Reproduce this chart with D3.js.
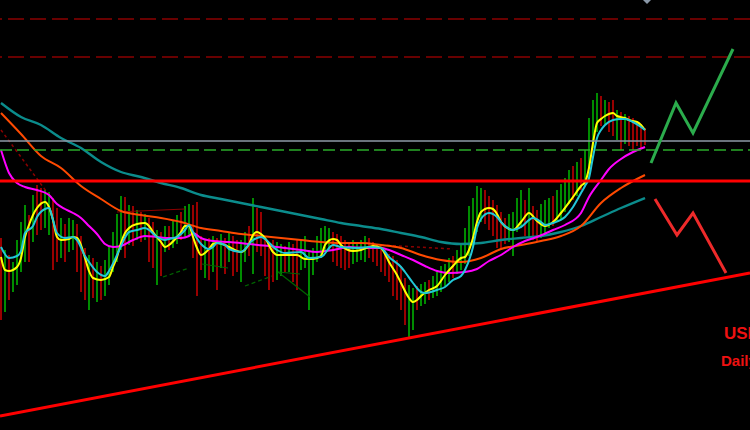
<!DOCTYPE html>
<html><head><meta charset="utf-8">
<script src="https://cdn.jsdelivr.net/npm/d3@7"></script>
<style>html,body{margin:0;padding:0;background:#000;overflow:hidden}svg{display:block}</style>
</head><body>
<script>
// ---- DATA ----
const barHigh = [
262,250,245,238,260,278,295,285,305,315,
312,310,308,302,292,282,276,282,280,276,
264,252,245,242,238,234,240,254,268,286,
304,303,295,294,290,288,286,282,278,270,
268,274,274,280,285,288,294,296,295,298,
264,260,262,264,262,266,262,268,264,260,
260,268,274,302,292,288,262,258,260,258,
256,254,258,256,260,260,264,250,252,264,
272,274,272,268,266,264,260,258,260,258,
260,264,262,258,256,254,250,246,244,240,
234,222,215,212,214,216,218,220,224,228,
234,236,242,244,250,256,272,294,302,314,
312,310,304,300,295,288,282,286,288,302,
310,300,312,294,290,296,300,302,304,310,
316,322,330,334,338,342,350,382,400,407,
404,400,398,400,390,388,386,384,382,378,376,372];
const barLow = [
180,188,200,208,215,228,238,238,258,265,
270,272,265,230,238,242,238,248,250,228,
208,200,190,202,198,200,204,215,228,238,
250,242,255,254,260,258,260,238,232,215,
224,248,250,252,256,260,262,264,242,204,
230,222,220,228,210,232,226,238,224,228,
218,238,244,226,248,244,224,210,218,220,
224,228,228,218,210,230,232,190,225,238,
242,248,250,238,234,232,230,232,236,238,
240,238,242,238,234,228,224,218,204,200,
190,175,163,170,190,194,196,200,202,204,
208,214,218,222,226,230,236,244,254,268,
278,276,270,264,252,250,256,258,244,268,
274,264,262,260,258,262,266,272,274,278,
280,288,296,300,304,310,314,320,352,368,
374,376,368,364,360,350,356,354,350,354,352,355];
const barDir = "rgrggggrgr" + "rggrrgrggr" + "rrgrgrgggg" + "grgrgrgrrg" +
               "rgrggrggrr" + "rgrgrgrgrr" + "ggrgrrrrrg" + "grgrrggggg" +
               "gggrrrrrgg" + "ggrrrrrrrr" + "rrggrggrgg" + "gggrgggggg" +
               "grrrrrrggg" + "grgrrgggrg" + "gggrgrgggg" + "rgrrgrgrrrrr";

const maTeal = [[0,397],[5,383],[10,375],[15,362],[20,352],[25,338],[30,328],[35,323],[40,317],[45,312],[50,305],[55,301],[60,297],[65,293],[70,289],[75,285],[80,281],[85,277],[90,274],[95,271],[100,267],[105,263],[110,258],[115,256],[120,257],[125,260],[130,262],[135,264],[140,268],[145,274],[150,283],[155,292],[161,302]];
const maOrange = [[0,387],[5,366],[10,344],[15,332],[20,314],[25,301],[30,289],[35,285],[40,282],[45,278],[50,272],[55,269],[60,266],[65,264],[70,262],[75,260],[80,258],[85,257],[90,257],[95,255],[100,252],[105,245],[110,240],[115,238],[120,242],[125,251],[130,255],[135,259],[140,264],[145,274],[150,297],[155,312],[161,325]];
const maMagenta = [[0,350],[2,327],[4,317],[6,313],[9,310],[12,305],[14,296],[16,291],[18,287],[20,282],[22,274],[24,266],[26,256],[28,253],[30,254],[33,260],[36,264],[39,263],[42,262],[45,262],[47,264],[48,267],[50,262],[53,259],[57,258],[62,256],[67,254],[71,252],[75,250],[79,248],[83,250],[87,253],[91,252],[95,252],[97,250],[100,245],[103,240],[106,234],[109,229],[112,227],[116,228],[119,231],[122,239],[125,245],[128,253],[131,259],[134,263],[138,270],[141,275],[145,287],[147,303],[150,320],[152,331],[155,341],[158,348],[161,353]];
const maYellow = [[0,243],[1,230],[2,229],[4,233],[5,242],[6,263],[7,275],[8,285],[9,292],[11,298],[12,293],[13,280],[14,263],[15,260],[17,261],[18,263],[19,262],[20,255],[21,242],[22,229],[23,222],[25,220],[27,223],[28,233],[29,243],[30,257],[31,267],[32,272],[34,276],[36,277],[37,274],[38,268],[40,258],[41,253],[42,255],[44,263],[45,268],[46,274],[47,274],[48,263],[49,252],[50,245],[52,251],[53,256],[54,257],[56,255],[57,253],[59,249],[60,248],[62,256],[63,265],[64,268],[65,266],[66,262],[68,248],[69,245],[74,245],[76,241],[78,241],[80,244],[81,255],[83,261],[84,260],[85,255],[88,249],[90,250],[92,253],[93,254],[95,252],[96,246],[97,238],[99,225],[100,217],[102,202],[103,198],[104,200],[105,204],[107,210],[109,214],[111,225],[113,234],[115,242],[116,243],[117,250],[118,262],[119,278],[120,288],[122,292],[123,291],[124,286],[125,278],[127,271],[128,270],[130,278],[132,287],[134,279],[136,274],[138,278],[140,287],[143,303],[145,314],[146,318],[147,332],[148,357],[149,377],[150,381],[151,384],[153,387],[154,384],[156,382],[157,380],[159,378],[160,375],[161,370]];
const maCyan = [[0,253],[2,242],[4,244],[5,249],[6,267],[8,274],[9,283],[11,291],[12,292],[13,280],[14,267],[16,262],[18,263],[19,260],[21,244],[22,238],[24,228],[26,224],[27,229],[29,245],[30,254],[32,268],[34,270],[36,272],[37,270],[39,263],[41,260],[42,261],[44,263],[46,270],[47,275],[48,268],[50,256],[52,251],[53,253],[54,257],[56,255],[57,251],[60,248],[63,260],[65,263],[66,261],[69,250],[71,247],[75,248],[77,242],[80,243],[83,255],[85,253],[89,252],[92,253],[95,252],[97,243],[100,233],[101,228],[103,217],[105,208],[106,207],[109,210],[111,213],[113,220],[115,224],[116,230],[118,253],[119,272],[120,281],[122,287],[124,283],[125,278],[128,270],[130,273],[133,282],[135,278],[136,275],[138,277],[141,283],[143,293],[145,307],[146,314],[147,322],[148,343],[149,362],[150,370],[151,375],[153,380],[155,381],[156,381],[158,378],[160,373],[161,370]];

// horizontal levels
const levelsDashedRed = [481, 443];
const levelGray = 359;
const levelGreenDashed = 350;
const levelRed = 319;
// trend line and projections [barIndex, price]
const trendLine = [[-0.25,84],[187.25,227]];
const projUp = [[162.5,337],[168.75,397],[173,367],[183,451]];
const projDown = [[163.5,301],[169,265],[173,287],[181.25,227]];
// small drawn objects
const darkRedDotted = [[[0,370],[12,305]], [[95,255],[113,251]]];
const darkRedSolid = [[[29,288],[46,291]]];
const greenDashed = [[[40.5,223],[47,232]], [[61,214],[67.75,224]]];
const greenSolid = [[[50.25,236],[56.75,232]], [[69.25,228],[74.75,226]], [[69.25,228],[77.25,203]]];
const marker = [161.5, 503];
const titleText = "USDCAD";
const subText = "Daily";

// ---- CHART ----
const W = 750, H = 430;
const svg = d3.select("body").append("svg").attr("width", W).attr("height", H)
  .style("background", "#000");
const x = d3.scaleLinear().domain([0, 161]).range([1, 645]);
const y = d3.scaleLinear().domain([70, 500]).range([H, 0]);

// bars
const bars = barHigh.map((h, i) => ({i, h, l: barLow[i], d: barDir[i]}));
svg.append("g").selectAll("line").data(bars).join("line")
  .attr("x1", d => x(d.i)).attr("x2", d => x(d.i))
  .attr("y1", d => y(d.h)).attr("y2", d => y(d.l))
  .attr("stroke", d => d.d === "g" ? "#00bb00" : "#cc0000")
  .attr("stroke-width", 1.5);

// small objects
const seg = d3.line().x(d => x(d[0])).y(d => y(d[1]));
darkRedDotted.forEach(s => svg.append("path").attr("d", seg(s)).attr("fill", "none")
  .attr("stroke", "#8b0000").attr("stroke-width", 1.5).attr("stroke-dasharray", "3,3"));
darkRedSolid.forEach(s => svg.append("path").attr("d", seg(s)).attr("fill", "none")
  .attr("stroke", "#8b0000").attr("stroke-width", 1.2));
greenDashed.forEach(s => svg.append("path").attr("d", seg(s)).attr("fill", "none")
  .attr("stroke", "#006400").attr("stroke-width", 1.2).attr("stroke-dasharray", "4,3"));
greenSolid.forEach(s => svg.append("path").attr("d", seg(s)).attr("fill", "none")
  .attr("stroke", "#006400").attr("stroke-width", 1.2));

// moving averages
const maLine = d3.line().x(d => x(d[0])).y(d => y(d[1])).curve(d3.curveMonotoneX);
[[maTeal, "#0b8c8c", 2.4], [maOrange, "#ff4a00", 2], [maMagenta, "#ff00ff", 2],
 [maYellow, "#ffff00", 2], [maCyan, "#22c8d8", 2]].forEach(([data, c, w]) => {
  svg.append("path").attr("d", maLine(data)).attr("fill", "none")
    .attr("stroke", c).attr("stroke-width", w).attr("stroke-linejoin", "round");
});

// horizontal levels
levelsDashedRed.forEach(v => svg.append("line").attr("x1", 0).attr("x2", W)
  .attr("y1", y(v)).attr("y2", y(v)).attr("stroke", "#8b0000")
  .attr("stroke-width", 1.6).attr("stroke-dasharray", "16,6").attr("stroke-dashoffset", 14));
svg.append("line").attr("x1", 0).attr("x2", W).attr("y1", y(levelGray)).attr("y2", y(levelGray))
  .attr("stroke", "#8e9aa6").attr("stroke-width", 1.3);
svg.append("line").attr("x1", 0).attr("x2", W).attr("y1", y(levelGreenDashed)).attr("y2", y(levelGreenDashed))
  .attr("stroke", "#2aaa2a").attr("stroke-width", 1.5).attr("stroke-dasharray", "12,5");
svg.append("line").attr("x1", 0).attr("x2", W).attr("y1", y(levelRed)).attr("y2", y(levelRed))
  .attr("stroke", "#ff0000").attr("stroke-width", 3);

// trend line
svg.append("path").attr("d", seg(trendLine)).attr("stroke", "#ff0000").attr("stroke-width", 3).attr("fill", "none");

// projections
svg.append("path").attr("d", seg(projUp)).attr("fill", "none").attr("stroke", "#2bac4c")
  .attr("stroke-width", 3).attr("stroke-linejoin", "miter");
svg.append("path").attr("d", seg(projDown)).attr("fill", "none").attr("stroke", "#ee2a2a")
  .attr("stroke-width", 3).attr("stroke-linejoin", "miter");

// marker (diamond)
const mx = x(marker[0]), my = y(marker[1]);
svg.append("path").attr("d", `M${mx-7},${my} L${mx},${my-8} L${mx+7},${my} L${mx},${my+7} Z`)
  .attr("fill", "#8a98a8");

// texts (cut off at the right edge, as in the reference)
svg.append("text").attr("x", 724).attr("y", 339).text(titleText)
  .attr("fill", "#ee1111").attr("font-family", "Liberation Sans, Arial, sans-serif")
  .attr("font-weight", "bold").attr("font-size", 17);
svg.append("text").attr("x", 721).attr("y", 366).text(subText)
  .attr("fill", "#ee1111").attr("font-family", "Liberation Sans, Arial, sans-serif")
  .attr("font-weight", "bold").attr("font-size", 15);
</script>
</body></html>
